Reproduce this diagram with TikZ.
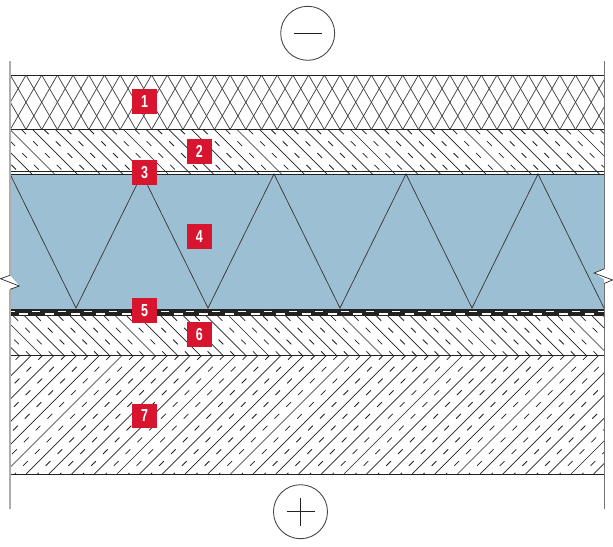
\documentclass[tikz,border=0pt]{standalone}
\usepackage{fontspec}
\setmainfont{Liberation Sans}
\newfontfamily\tagfont[FakeStretch=0.72]{Liberation Sans}
\definecolor{tag}{HTML}{D8152F}
\definecolor{ins}{HTML}{9DBFD3}
\definecolor{ink}{HTML}{222222}
\tikzset{
  tagbox/.style={fill=tag,text=white,minimum size=18.6pt,inner sep=0pt,font=\fontsize{13}{14}\tagfont\bfseries},
  layerline/.style={draw=ink,line width=0.7pt},
  hatchsolid/.style={draw=ink,line width=0.5pt},
  hatchdash/.style={draw=ink,line width=0.6pt,dash pattern=on 5pt off 7.5pt},
  signcircle/.style={circle,draw=ink!85,line width=0.65pt,minimum size=40.5pt,inner sep=0pt},
  signstroke/.style={draw=ink,line width=0.7pt},
  wall/.style={draw=black!32,line width=1.5pt},
}
% top y, bottom y, x phase at top, direction (+1 \ or -1 /)
\newcommand{\hatchband}[4]{%
  \begin{scope}
    \clip (10,#1) rectangle (604,#2);
    \foreach \k in {-8,...,34}{
      \pgfmathsetmacro{\xa}{#3+22.7*\k}
      \pgfmathsetmacro{\xb}{\xa+#4*(#2-#1)}
      \pgfmathsetmacro{\xc}{\xa+11.35}
      \pgfmathsetmacro{\xd}{\xb+11.35}
      \draw[hatchsolid] (\xa,#1) -- (\xb,#2);
      \draw[hatchdash] (\xc,#1) -- (\xd,#2);
    }
  \end{scope}}
\begin{document}
\begin{tikzpicture}[x=0.75pt,y=-0.75pt]
\useasboundingbox (0,0) rectangle (613,546);
\fill[white] (0,0) rectangle (613,546);

% layer 1: cross hatch
\begin{scope}
  \clip (10,75) rectangle (604,129.5);
  \foreach \k in {-6,...,40}{
    \pgfmathsetmacro{\xa}{10.3+15.7*\k}
    \pgfmathsetmacro{\xb}{\xa+31.4}
    \pgfmathsetmacro{\xc}{\xa-31.4}
    \draw[draw=ink!85,line width=0.55pt] (\xa,75) -- (\xb,129.5);
    \draw[draw=ink!85,line width=0.55pt] (\xa,75) -- (\xc,129.5);
  }
\end{scope}

% layers 2, 6, 7: hatching
\hatchband{129.5}{174}{10}{1}
\hatchband{316}{355}{2}{1}
\hatchband{355}{474}{9}{-1}

% layer 4: insulation
\fill[ins] (10,174) rectangle (604,309);
\draw[draw=ink!90,line width=0.55pt]
  (10,174) -- (76,308) -- (142,174) -- (208,308) -- (274,174) -- (340,308)
  -- (406,174) -- (472,308) -- (538,174) -- (604,308);

% break marks
\fill[white] (10,275.3) -- (19.3,286) -- (10,289.3) -- cycle;
\fill[white] (604,269) -- (594,273) -- (604,279) -- cycle;
\draw[draw=ink,line width=0.5pt] (10,275.3) -- (0.5,278.7) -- (19.3,286) -- (10,289.3);
\draw[draw=ink,line width=0.5pt] (604,269) -- (594,273) -- (612.5,280) -- (604,283.5);

% layer 5: membrane
\fill[ink] (10,309) rectangle (604,316);
\begin{scope}
  \clip (10,309) rectangle (604,316);
  \foreach \k in {0,...,24}{
    \pgfmathsetmacro{\xa}{6.5+25.7*\k}
    \pgfmathsetmacro{\xb}{\xa+8}
    \pgfmathsetmacro{\xc}{\xa+12.8}
    \pgfmathsetmacro{\xd}{\xc+9}
    \fill[white] (\xa,310.7) rectangle (\xb,311.7);
    \fill[white] (\xc,313) rectangle (\xd,314.7);
  }
\end{scope}

% layer boundaries
\draw[layerline] (10,75) -- (604,75);
\draw[layerline] (10,129.5) -- (604,129.5);
\draw[layerline] (10,171.3) -- (604,171.3);
\draw[layerline] (10,174) -- (604,174);
\draw[layerline] (10,355) -- (604,355);
\draw[layerline] (10,474) -- (604,474);

% walls
\draw[wall] (10,61) -- (10,275);
\draw[wall] (10,290) -- (10,509);
\draw[draw=black!55,line width=0.7pt] (604,61) -- (604,269);
\draw[draw=black!55,line width=0.7pt] (604,284) -- (604,509);

% signs
\node[signcircle] (minus) at (307.7,33.3) {};
\coordinate (minusL) at (294,33.3);
\coordinate (minusR) at (321.7,33.3);
\draw[signstroke] (minusL) -- (minusR);
\node[signcircle] (plus) at (300.5,511.7) {};
\coordinate (plusL) at (287,511.7);
\coordinate (plusR) at (314.7,511.7);
\coordinate (plusT) at (300.5,497.7);
\coordinate (plusB) at (300.5,525.7);
\draw[signstroke] (plusL) -- (plusR);
\draw[signstroke] (plusT) -- (plusB);

% tags
\node[tagbox] (t1) at (144.5,101.7) {1};
\node[tagbox] (t2) at (199.3,151.5) {2};
\node[tagbox] (t3) at (144.5,172.5) {3};
\node[tagbox] (t4) at (199.3,236.3) {4};
\node[tagbox] (t5) at (144.5,310.3) {5};
\node[tagbox] (t6) at (199.3,334.7) {6};
\node[tagbox] (t7) at (144.5,416) {7};
\end{tikzpicture}
\end{document}
